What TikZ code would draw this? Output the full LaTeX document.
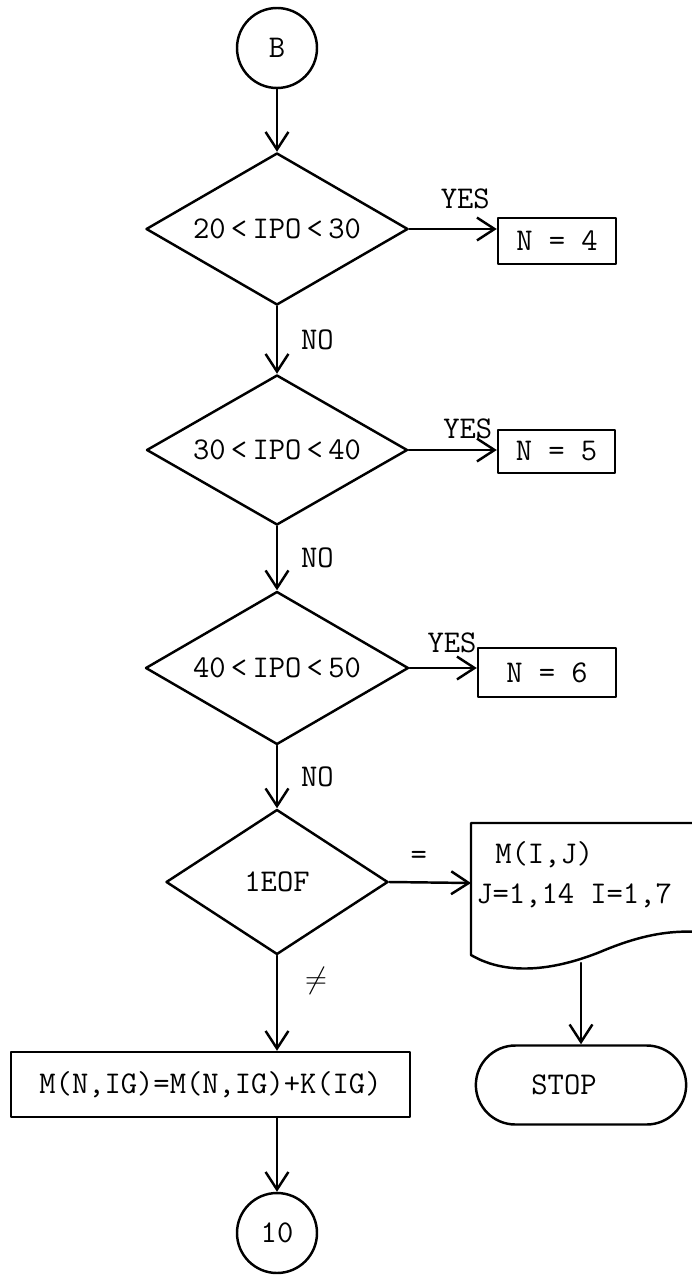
\documentclass[tikz,border=0pt]{standalone}
\usepackage{fontspec}
\usepackage{tikz}
\usetikzlibrary{arrows.meta,shapes.geometric,shapes.misc}

\begin{document}
\begin{tikzpicture}[line cap=round,line join=round,>={Straight Barb[length=10pt,width=13pt]},x=1cm,y=1cm,
	every node/.style={font=\ttfamily\fontsize{18}{21}\selectfont},
	conn/.style={circle,draw,line width=1.4pt,minimum size=1.6cm,inner sep=0pt},
	test/.style={diamond,draw,line width=1.4pt,aspect=1.7,inner sep=0pt},
	proc/.style={rectangle,draw,line width=1.4pt,inner sep=0pt},
	term/.style={rounded rectangle,draw,line width=1.4pt,minimum width=4.44cm,minimum height=1.58cm},
	flow/.style={->,line width=1.4pt}]
			\useasboundingbox (0.,0.) rectangle (13.84,-25.5);
			\node[conn] (B) at (5.54,-0.96) {B};
			\node[test,minimum width=5.24cm,minimum height=3.04cm] (d1) at (5.54,-4.58) {20\,<\,IPO\,<\,30};
			\node[test,minimum width=5.22cm,minimum height=3.cm] (d2) at (5.54,-9.) {30\,<\,IPO\,<\,40};
			\node[test,minimum width=5.26cm,minimum height=3.06cm] (d3) at (5.54,-13.36) {40\,<\,IPO\,<\,50};
			\node[test,minimum width=4.44cm,minimum height=2.9cm] (d4) at (5.54,-17.64) {1EOF};
			\node[proc,minimum width=2.36cm,minimum height=0.92cm] (n4) at (11.14,-4.82) {N = 4};
			\node[proc,minimum width=2.34cm,minimum height=0.86cm] (n5) at (11.13,-9.03) {N = 5};
			\node[proc,minimum width=2.76cm,minimum height=0.98cm] (n6) at (10.94,-13.45) {N = 6};
			\node[proc,minimum width=7.98cm,minimum height=1.3cm] (upd) at (4.21,-21.69) {M(N,IG)=M(N,IG)+K(IG)};
			\node[conn] (c10) at (5.54,-24.66) {10};
			\node[term] (stop) at (11.62,-21.7) {STOP\hspace*{0.68cm}};
			% output document
			\draw[line width=1.4pt] (14.,-16.46) -- (9.42,-16.46) -- (9.42,-19.1) .. controls (10.2,-19.56) and (11.2,-19.36) .. (12.,-19.04) .. controls (12.8,-18.7) and (13.4,-18.6) .. (14.,-18.64);
			\coordinate (docin) at (9.42,-17.66);
			\coordinate (docout) at (11.62,-19.26);
			\node[anchor=west,inner sep=0pt] (doc1) at (9.9,-17.1) {M(I,J)};
			\node[anchor=west,inner sep=0pt] (doc2) at (9.52,-17.92) {J=1,14 I=1,7};
			% connectors
			\draw[flow] (B) -- (d1);
			\draw[flow] (d1) -- node[right=0.34cm] {NO} (d2);
			\draw[flow] (d2) -- node[right=0.34cm] {NO} (d3);
			\draw[flow] (d3) -- node[right=0.34cm] {NO} (d4);
			\draw[flow] (d1.east) -- node[pos=0.64,above=0.26cm] {YES} (d1.east -| n4.west);
			\draw[flow] (d2.east) -- node[pos=0.67,above=0.08cm] {YES} (d2.east -| n5.west);
			\draw[flow] (d3.east) -- node[pos=0.63,above=0.16cm] {YES} (d3.east -| n6.west);
			\draw[flow] (d4.east) -- node[pos=0.36,above=0.22cm] {=} (docin);
			\draw[flow] (d4.south) -- node[pos=0.27,right=0.42cm] {$\neq$} (d4.south |- upd.north);
			\draw[flow] (d4.south |- upd.south) -- (c10.north);
			\draw[flow] (docout) -- (docout |- stop.north);
\end{tikzpicture}
\end{document}
